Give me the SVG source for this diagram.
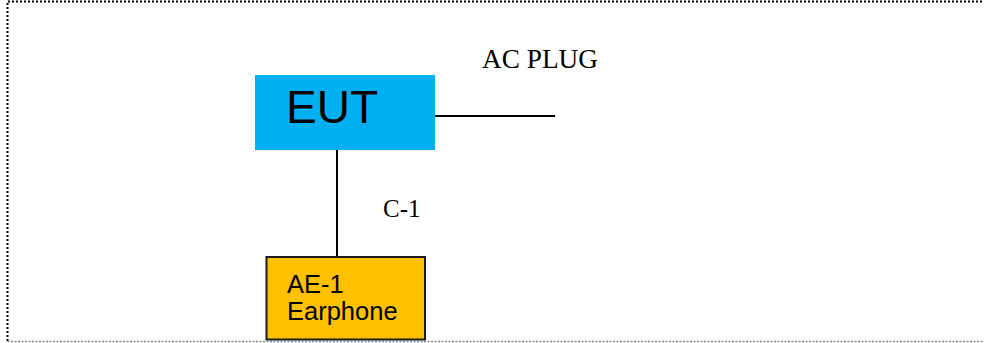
<svg xmlns="http://www.w3.org/2000/svg" width="984" height="343" viewBox="0 0 984 343">
<style>
.frame{fill:none;stroke:#000;stroke-width:2;stroke-dasharray:2,2}
.frameb{fill:none;stroke:#888;stroke-width:1.5;stroke-dasharray:2,1.5}
.conn{stroke:#000;stroke-width:2;fill:none}
.sans{font-family:"Liberation Sans",Arial,sans-serif;fill:#000}
.serif{font-family:"Liberation Serif","Times New Roman",serif;fill:#000}
</style>
<rect width="984" height="343" fill="#fff"/>
<g id="frame">
<path class="frame" d="M7.5,341 V1.5 H990"/>
<path class="frameb" d="M7.5,341.5 H990"/>
</g>
<g id="connectors">
<line class="conn" x1="435" y1="116" x2="555" y2="116"/>
<line class="conn" x1="337" y1="150" x2="337" y2="257"/>
</g>
<g id="eut">
<rect x="255" y="75" width="180" height="75" fill="#00B0F0"/>
<text class="sans" x="286" y="123" font-size="46">EUT</text>
</g>
<g id="ae1">
<rect x="266.5" y="257" width="158.5" height="82.5" fill="#FFC000" stroke="#1a1a1a" stroke-width="2"/>
<text class="sans" x="287" y="293" font-size="25.5">AE-1</text>
<text class="sans" x="287" y="319.5" font-size="25.5">Earphone</text>
</g>
<g id="labels">
<text class="serif" x="482" y="68" font-size="27" textLength="116" lengthAdjust="spacingAndGlyphs">AC PLUG</text>
<text class="serif" x="383" y="217" font-size="25">C-1</text>
</g>
</svg>
